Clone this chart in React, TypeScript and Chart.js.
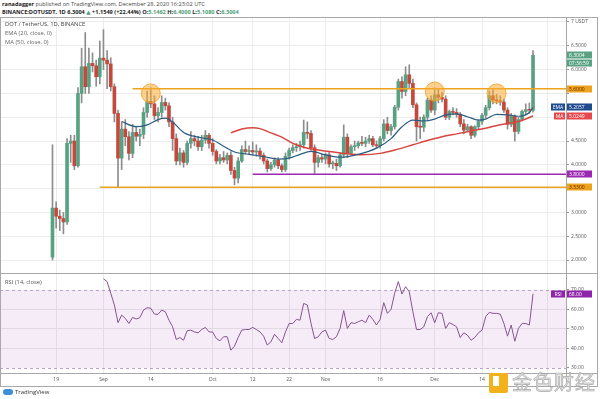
import React, { useEffect, useRef } from 'react';
import { Chart, registerables } from 'chart.js';
Chart.register(...registerables);

// ---- daily candles (index 0 = Aug 18, 2020 ... 132 = Dec 28, 2020) ----
const opens = [2.06,3.09,2.92,2.87,2.80,4.45,4.50,3.98,5.50,6.06,5.64,6.13,6.08,5.85,6.24,6.20,6.12,5.64,5.08,4.14,4.75,4.59,4.24,4.68,4.60,4.64,5.10,5.33,5.28,5.03,5.10,5.31,5.24,4.90,4.55,4.08,4.25,4.05,4.45,4.55,4.50,4.38,4.52,4.62,4.45,4.28,4.08,4.15,4.10,4.20,3.88,3.72,4.08,4.32,4.28,4.30,4.27,4.29,4.20,4.08,3.92,4.00,4.10,3.98,3.90,4.18,4.30,4.36,4.38,4.42,4.68,4.66,4.36,4.05,4.15,4.12,4.21,4.02,4.03,3.98,4.21,4.58,4.24,4.38,4.40,4.46,4.45,4.50,4.55,4.42,4.40,4.55,4.86,4.72,4.80,5.21,5.75,5.54,5.89,5.71,5.26,4.80,4.79,5.00,5.36,5.15,5.47,5.42,5.38,5.00,5.12,5.10,5.06,4.86,4.73,4.80,4.62,4.80,4.91,5.04,5.20,5.45,5.36,5.34,5.32,5.15,4.85,5.02,4.70,4.95,5.12,5.16,5.1462];
const highs = [4.42,3.22,3.05,3.00,4.55,4.62,4.62,5.62,6.45,6.78,6.45,6.35,6.20,6.60,6.84,6.40,6.25,5.70,5.15,4.90,4.95,4.70,4.85,4.80,4.75,5.20,5.55,5.62,5.45,5.20,5.45,5.40,5.30,5.00,4.65,4.35,4.30,4.50,4.70,4.62,4.60,4.62,4.72,4.66,4.55,4.32,4.22,4.28,4.25,4.28,3.95,4.15,4.40,4.50,4.40,4.48,4.42,4.35,4.25,4.12,4.05,4.15,4.15,4.02,4.25,4.35,4.42,4.45,4.50,4.94,4.90,4.72,4.42,4.20,4.22,4.25,4.26,4.08,4.12,4.25,4.84,4.65,4.42,4.50,4.50,4.60,4.58,4.62,4.60,4.50,4.60,4.95,5.00,4.85,5.25,5.80,5.85,6.06,6.10,5.80,5.30,5.00,5.05,5.40,5.45,5.62,5.60,5.52,5.45,5.15,5.20,5.18,5.10,4.95,4.85,4.82,4.82,4.95,5.08,5.25,5.55,5.58,5.48,5.45,5.38,5.20,5.08,5.05,5.00,5.15,5.28,5.30,6.40];
const lows = [2.00,2.67,2.62,2.55,2.75,4.05,3.90,3.95,5.30,5.50,5.50,5.95,5.65,5.70,6.00,5.60,5.55,4.90,3.53,3.90,4.40,4.10,4.15,4.50,4.40,4.55,5.00,5.20,4.95,4.90,5.00,5.15,4.80,4.30,4.00,4.00,3.95,4.00,4.35,4.40,4.30,4.30,4.45,4.35,4.20,4.02,4.02,4.05,4.02,3.80,3.58,3.62,4.05,4.22,4.22,4.20,4.18,4.12,4.02,3.85,3.88,3.95,3.92,3.85,3.86,4.12,4.25,4.28,4.30,4.35,4.55,4.30,3.82,3.95,4.05,4.02,3.95,3.92,3.88,3.95,4.15,4.15,4.20,4.30,4.35,4.40,4.38,4.45,4.38,4.35,4.35,4.50,4.65,4.62,4.75,5.15,5.40,5.45,5.60,5.20,4.50,4.55,4.70,4.95,5.10,5.05,5.30,5.32,4.95,4.95,5.05,5.00,4.80,4.65,4.70,4.55,4.58,4.75,4.85,4.98,5.15,5.28,5.28,5.25,5.10,4.75,4.80,4.50,4.65,4.92,5.05,5.08,5.108];
const closes = [3.09,2.92,2.87,2.80,4.45,4.50,3.98,5.50,6.06,5.64,6.13,6.08,5.85,6.24,6.20,6.12,5.64,5.08,4.14,4.75,4.59,4.24,4.68,4.60,4.64,5.10,5.33,5.28,5.03,5.10,5.31,5.24,4.90,4.55,4.08,4.25,4.05,4.45,4.55,4.50,4.38,4.52,4.62,4.45,4.28,4.08,4.15,4.10,4.20,3.88,3.72,4.08,4.32,4.28,4.30,4.27,4.29,4.20,4.08,3.92,4.00,4.10,3.98,3.90,4.18,4.30,4.36,4.38,4.42,4.68,4.66,4.36,4.05,4.15,4.12,4.21,4.02,4.03,3.98,4.21,4.58,4.24,4.38,4.40,4.46,4.45,4.50,4.55,4.42,4.40,4.55,4.86,4.72,4.80,5.21,5.75,5.54,5.89,5.71,5.26,4.80,4.79,5.00,5.36,5.15,5.47,5.42,5.38,5.00,5.12,5.10,5.06,4.86,4.73,4.80,4.62,4.80,4.91,5.04,5.20,5.45,5.36,5.34,5.32,5.15,4.85,5.02,4.70,4.95,5.12,5.16,5.1462,6.3004];

// ---- EMA(20) and MA(50) ----
const emaDays = [19,23,26,29,31,33,36,40,44,47,50,54,58,62,65,68,71,75,79,84,89,93,96,99,102,105,108,111,114,117,119,122,125,128,131,132];
const emaValues = [4.91,4.80,4.84,4.95,4.98,4.90,4.68,4.58,4.52,4.39,4.27,4.22,4.17,4.12,4.14,4.22,4.28,4.21,4.16,4.22,4.35,4.55,4.80,4.94,4.92,4.96,5.05,5.07,5.01,4.94,4.96,5.06,5.05,5.02,5.10,5.2057];
const maDays = [49,52,55,57,60,63,66,69,72,76,81,85,90,94,99,103,107,111,115,119,123,128,132];
const maValues = [4.67,4.75,4.78,4.76,4.67,4.58,4.45,4.37,4.32,4.28,4.23,4.21,4.24,4.31,4.42,4.51,4.59,4.65,4.71,4.77,4.84,4.91,5.0249];

// ---- RSI(14), starting at day 14 (Sep 1) ----
const rsiStart = 14;
const rsiValues = [
75.7,74.3,68.3,62.3,53.2,57.1,55.4,52.8,55.9,55.1,
55.8,59.7,60.9,60.6,57.6,57.5,59.7,58.8,54.5,51.1,
44.6,45.6,44.2,49.1,49.4,48.5,48.0,49.7,50.8,48.5,
48.4,45.1,43.9,46.0,46.0,39.1,41.2,45.6,49.4,49.7,
49.7,50.8,49.7,48.5,46.3,41.7,43.4,47.3,45.1,42.9,
48.5,52.8,52.8,54.9,54.5,63.1,62.3,53.0,45.1,46.0,
48.5,49.4,45.1,44.6,46.0,50.3,59.4,50.3,53.2,52.8,
53.7,54.5,53.2,57.1,54.9,52.0,54.9,63.5,58.0,60.0,
68.3,74.3,67.9,71.7,69.1,58.8,49.7,49.7,51.1,56.3,
58.3,53.2,58.3,58.0,50.3,53.2,52.3,51.1,45.6,48.0,
46.8,44.2,45.6,48.0,49.4,56.3,58.5,58.0,58.0,57.6,
52.8,46.3,52.0,43.7,50.3,52.8,52.8,52.0,68.0];
const rsiLast = 68.0;

// ---- drawn levels and highlights ----
const resistance = 5.6, resistanceStart = 22;
const support = 3.53, supportStart = 13;
const purpleLevel = 3.8, purpleStart = 55;
const circleDays = [27, 105, 122];
const circleValues = [5.5, 5.54, 5.5];

// ---- axes ----
const X_MIN = -14.42, X_MAX = 141.06;
const PRICE_MIN = 1.727, PRICE_MAX = 7.105;
const RSI_MIN = 27.4, RSI_MAX = 78.7;
const priceTicks = [2, 2.5, 3, 3.5, 4, 4.5, 5, 5.5, 6, 6.5, 7];
const hiddenPriceTicks = [3.5, 5, 5.5];
const timeTicks = [1, 14, 27, 44, 55, 65, 75, 90, 105, 118, 136];
const timeLabels = ['19', 'Sep', '14', 'Oct', '12', '22', 'Nov', '16', 'Dec', '14', ''];
const rsiTicks = [30, 40, 50, 60, 70];

const lastClose = closes[closes.length - 1];
const emaLast = emaValues[emaValues.length - 1];
const maLast = maValues[maValues.length - 1];

const FONT = '"Open Sans", "DejaVu Sans", sans-serif';
const UP = '#58a283';
const DOWN = '#c4493d';
const ORANGE = '#eda31b';
const PURPLE = '#9c27b0';

type Tag = { value: number; text: string; bg: string; fg: string; prefix?: string; dy?: number };

const mainTags: Tag[] = [
  { value: lastClose, text: lastClose.toFixed(4), bg: UP, fg: '#fff' },
  { value: lastClose, dy: 8, text: '07:36:59', bg: UP, fg: '#fff' },
  { value: resistance, text: resistance.toFixed(4), bg: ORANGE, fg: '#6b1e00' },
  { value: emaLast, text: emaLast.toFixed(4), prefix: 'EMA', bg: '#1f4b8f', fg: '#fff' },
  { value: maLast, text: maLast.toFixed(4), prefix: 'MA', bg: '#e5484d', fg: '#fff' },
  { value: purpleLevel, text: purpleLevel.toFixed(4), bg: PURPLE, fg: '#fff' },
  { value: support, text: support.toFixed(4), bg: ORANGE, fg: '#6b1e00' },
];
const rsiTags: Tag[] = [{ value: rsiLast, text: rsiLast.toFixed(2), prefix: 'RSI', bg: '#8e24aa', fg: '#fff' }];

function tagPlugin(tags: Tag[]) {
  return {
    id: 'tags',
    afterDraw(chart: any) {
      const { ctx, chartArea, scales } = chart;
      const y = scales.y;
      ctx.save();
      ctx.font = `5px ${FONT}`;
      ctx.textBaseline = 'middle';
      tags.forEach((t) => {
        const py = Math.round(y.getPixelForValue(t.value) + (t.dy || 0));
        const x0 = chartArea.right + 1;
        ctx.fillStyle = t.bg;
        ctx.fillRect(x0, py - 3.5, 25, 7);
        ctx.fillStyle = t.fg;
        ctx.textAlign = 'left';
        ctx.fillText(t.text, x0 + 2, py + 0.5);
        if (t.prefix) {
          const w = t.prefix.length > 2 ? 14 : 11;
          ctx.fillStyle = t.bg;
          ctx.fillRect(chartArea.right - w - 1, py - 3.5, w, 7);
          ctx.fillStyle = t.fg;
          ctx.textAlign = 'center';
          ctx.fillText(t.prefix, chartArea.right - 1 - w / 2, py + 0.5);
        }
      });
      ctx.restore();
    },
  };
}

const rsiBandPlugin = {
  id: 'rsiBand',
  beforeDatasetsDraw(chart: any) {
    const { ctx, chartArea, scales } = chart;
    const y = scales.y;
    const y70 = y.getPixelForValue(70);
    const y30 = y.getPixelForValue(30);
    ctx.save();
    ctx.fillStyle = 'rgba(156, 39, 176, 0.09)';
    ctx.fillRect(chartArea.left, y70, chartArea.right - chartArea.left, y30 - y70);
    ctx.strokeStyle = '#b9a3c6';
    ctx.lineWidth = 1;
    ctx.setLineDash([3, 3]);
    [y70, y30].forEach((py) => {
      ctx.beginPath();
      ctx.moveTo(chartArea.left, Math.round(py) + 0.5);
      ctx.lineTo(chartArea.right, Math.round(py) + 0.5);
      ctx.stroke();
    });
    ctx.restore();
  },
};

const xScaleBase = {
  type: 'linear' as const,
  min: X_MIN,
  max: X_MAX,
  offset: false,
  afterBuildTicks: (s: any) => {
    s.ticks = timeTicks.map((v) => ({ value: v }));
  },
};

export default function App() {
  const mainRef = useRef<HTMLCanvasElement>(null);
  const rsiRef = useRef<HTMLCanvasElement>(null);

  useEffect(() => {
    const days = closes.map((_, i) => i);
    const wickData = days.map((i) => ({ x: i, y: [lows[i], highs[i]] }));
    const bodyData = days.map((i) => ({ x: i, y: [opens[i], closes[i]] }));
    const bodyColors = days.map((i) => (closes[i] >= opens[i] ? UP : DOWN));

    const main = new Chart(mainRef.current as HTMLCanvasElement, {
      type: 'bar',
      data: {
        datasets: [
          { type: 'bar', data: wickData as any, backgroundColor: '#8d8d8d', barThickness: 1, grouped: false, order: 7 } as any,
          { type: 'bar', data: bodyData as any, backgroundColor: bodyColors, barThickness: 3, grouped: false, minBarLength: 1, order: 6 } as any,
          { type: 'line', data: [{ x: resistanceStart, y: resistance }, { x: X_MAX, y: resistance }], borderColor: ORANGE, borderWidth: 1.5, pointRadius: 0, order: 4 },
          { type: 'line', data: [{ x: supportStart, y: support }, { x: X_MAX, y: support }], borderColor: ORANGE, borderWidth: 1.5, pointRadius: 0, order: 4 },
          { type: 'line', data: [{ x: purpleStart, y: purpleLevel }, { x: X_MAX, y: purpleLevel }], borderColor: PURPLE, borderWidth: 1.5, pointRadius: 0, order: 4 },
          { type: 'line', data: maDays.map((d, k) => ({ x: d, y: maValues[k] })), borderColor: '#d8463f', borderWidth: 1.5, pointRadius: 0, cubicInterpolationMode: 'monotone', order: 3 },
          { type: 'line', data: emaDays.map((d, k) => ({ x: d, y: emaValues[k] })), borderColor: '#2b5b82', borderWidth: 1.2, pointRadius: 0, cubicInterpolationMode: 'monotone', order: 2 },
          { type: 'line', data: circleDays.map((d, k) => ({ x: d, y: circleValues[k] })), showLine: false, pointRadius: 9.5, pointBackgroundColor: 'rgba(250, 170, 50, 0.55)', pointBorderColor: 'rgba(240, 160, 40, 0.8)', pointBorderWidth: 1, order: 1 },
        ] as any,
      },
      options: {
        animation: false,
        responsive: false,
        maintainAspectRatio: false,
        layout: { padding: 0, autoPadding: false },
        plugins: { legend: { display: false }, tooltip: { enabled: false } },
        scales: {
          x: {
            ...xScaleBase,
            grid: { color: '#ececec', drawTicks: false, offset: false },
            border: { display: false },
            ticks: { display: false },
            afterFit: (s: any) => { s.height = 0; s.paddingLeft = 0; s.paddingRight = 0; },
          },
          y: {
            position: 'right',
            min: PRICE_MIN,
            max: PRICE_MAX,
            beginAtZero: false,
            grid: { color: '#ececec', tickLength: 3, tickColor: '#999' },
            border: { display: false },
            ticks: {
              font: { size: 5, family: FONT },
              color: '#555',
              padding: 2,
              callback: (v: any) => {
                const n = Number(v);
                if (n === 7) return '7 USDT';
                if (hiddenPriceTicks.includes(n)) return '';
                return n.toFixed(4);
              },
            },
            afterBuildTicks: (s: any) => { s.ticks = priceTicks.map((v) => ({ value: v })); },
            afterFit: (s: any) => { s.width = 34; s.paddingTop = 0; s.paddingBottom = 0; },
          },
        },
      } as any,
      plugins: [tagPlugin(mainTags)],
    });

    const rsi = new Chart(rsiRef.current as HTMLCanvasElement, {
      type: 'line',
      data: {
        datasets: [
          {
            data: rsiValues.map((v, k) => ({ x: rsiStart + k, y: v })),
            borderColor: '#86548f',
            borderWidth: 1,
            pointRadius: 0,
            tension: 0,
          },
        ],
      },
      options: {
        animation: false,
        responsive: false,
        maintainAspectRatio: false,
        layout: { padding: 0, autoPadding: false },
        plugins: { legend: { display: false }, tooltip: { enabled: false } },
        scales: {
          x: {
            ...xScaleBase,
            grid: { color: '#ececec', drawTicks: false },
            border: { display: false },
            ticks: {
              autoSkip: false,
              maxRotation: 0,
              padding: 4,
              font: { size: 5, family: FONT },
              color: '#555',
              callback: (v: any) => {
                const k = timeTicks.indexOf(Number(v));
                return k >= 0 ? timeLabels[k] : '';
              },
            },
            afterFit: (s: any) => { s.height = 14; s.paddingLeft = 0; s.paddingRight = 0; },
          },
          y: {
            position: 'right',
            min: RSI_MIN,
            max: RSI_MAX,
            grid: {
              color: (c: any) => (c.tick && (c.tick.value === 70 || c.tick.value === 30) ? 'rgba(0,0,0,0)' : '#e9e9e9'),
              tickLength: 3,
              tickColor: '#999',
            },
            border: { display: false },
            ticks: {
              font: { size: 5, family: FONT },
              color: '#555',
              padding: 2,
              callback: (v: any) => Number(v).toFixed(2),
            },
            afterBuildTicks: (s: any) => { s.ticks = rsiTicks.map((v) => ({ value: v })); },
            afterFit: (s: any) => { s.width = 34; s.paddingTop = 0; s.paddingBottom = 0; },
          },
        },
      } as any,
      plugins: [rsiBandPlugin, tagPlugin(rsiTags)],
    });

    return () => {
      main.destroy();
      rsi.destroy();
    };
  }, []);

  const line = (style: React.CSSProperties) => (
    <div style={{ position: 'absolute', background: '#a8a8a8', ...style }} />
  );
  const green = { color: '#4f9d7a' };

  return (
    <div style={{ position: 'absolute', left: 0, top: 0, width: 600, height: 399, background: '#fff', overflow: 'hidden', fontFamily: FONT }}>
      <div style={{ position: 'absolute', left: 2, top: 0, fontSize: 5.6, lineHeight: '8px', color: '#444', whiteSpace: 'nowrap' }}>
        <b style={{ color: '#222' }}>ranadagger</b> published on TradingView.com, December 28, 2020 16:23:02 UTC
      </div>
      <div style={{ position: 'absolute', left: 2, top: 8, fontSize: 5.6, lineHeight: '8px', color: '#222', fontWeight: 700, whiteSpace: 'nowrap' }}>
        BINANCE:DOTUSDT, 1D <span>6.3004</span> <span style={green}>▲</span> +1.1549 (+22.44%) O:<span style={green}>5.1462</span> H:<span style={green}>6.4000</span> L:<span style={green}>5.1080</span> C:<span style={green}>6.3004</span>
      </div>

      <canvas ref={mainRef} width={600} height={256} style={{ position: 'absolute', left: 0, top: 17, width: 600, height: 256 }} />
      <canvas ref={rsiRef} width={600} height={114} style={{ position: 'absolute', left: 0, top: 273, width: 600, height: 114 }} />

      <div style={{ position: 'absolute', left: 5, top: 20, fontSize: 5.8, lineHeight: '9px', color: '#444', whiteSpace: 'nowrap' }}>
        <div>DOT / TetherUS, 1D, BINANCE</div>
        <div style={{ color: '#666' }}>EMA (20, close, 0)</div>
        <div style={{ color: '#666' }}>MA (50, close, 0)</div>
      </div>
      <div style={{ position: 'absolute', left: 5, top: 278, fontSize: 5.8, lineHeight: '8px', color: '#555', whiteSpace: 'nowrap' }}>RSI (14, close)</div>

      {line({ left: 0, top: 17, width: 598, height: 1 })}
      {line({ left: 0, top: 273, width: 598, height: 1 })}
      {line({ left: 0, top: 373, width: 598, height: 1 })}
      {line({ left: 0, top: 386, width: 598, height: 1 })}
      {line({ left: 0, top: 17, width: 1, height: 370 })}
      {line({ left: 566, top: 17, width: 1, height: 370 })}
      {line({ left: 597, top: 17, width: 1, height: 370 })}

      <div style={{ position: 'absolute', left: 3, top: 389, width: 10, height: 6, borderRadius: 3, background: '#3a8fd6' }} />
      <div style={{ position: 'absolute', left: 15, top: 388, fontSize: 6, lineHeight: '9px', color: '#333', whiteSpace: 'nowrap' }}>TradingView</div>

      <div style={{ position: 'absolute', left: 489, top: 373, width: 19, height: 20, background: '#f3b21c', borderRadius: 2 }}>
        <div style={{ position: 'absolute', left: 4, top: 3, width: 6, height: 10, background: '#fff' }} />
      </div>
      <div style={{ position: 'absolute', left: 512, top: 369, fontSize: 20, lineHeight: '26px', letterSpacing: 1, color: '#e4e4e4', WebkitTextStroke: '0.6px #a9a9a9', fontFamily: '"Noto Sans CJK SC", sans-serif', whiteSpace: 'nowrap' }}>金色财经</div>
    </div>
  );
}
